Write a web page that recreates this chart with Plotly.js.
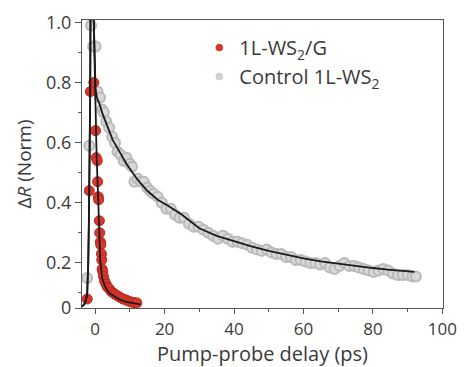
<!DOCTYPE html>
<html><head><meta charset="utf-8">
<script src="https://cdn.plot.ly/plotly-3.0.1.min.js"></script>
<style>html,body{margin:0;padding:0;background:#fff}</style>
</head><body><div id="chart" style="width:465px;height:367px"></div>
<script>
// Control 1L-WS2 (grey) data
const ctrlX = [-2.3,-1.7,-1.2,-0.6,0.1,0.7,1.4,2.0,2.5,3.2,4.0,4.9,5.7,6.4,7.3,8.2,9.0,10.0,10.6,11.3,12.2,13.2,14.0,15.0,15.8,16.8,18.0,19.2,20.5,21.8,23.0,24.3,25.6,27.0,28.4,29.8,31.2,32.6,34.0,35.4,36.8,38.2,39.6,41.0,42.4,43.8,45.2,46.6,48.0,49.4,50.8,52.2,53.6,55.0,56.4,57.8,59.2,60.6,62.0,63.4,64.8,66.2,67.6,69.0,70.4,71.8,73.2,74.6,76.0,77.4,78.8,80.2,81.6,83.0,84.4,85.8,87.2,88.6,90.0,91.4,92.4];
const ctrlY = [0.15,0.59,0.99,0.92,0.92,0.77,0.75,0.71,0.70,0.67,0.65,0.62,0.60,0.57,0.56,0.54,0.55,0.53,0.52,0.47,0.48,0.47,0.47,0.45,0.44,0.43,0.42,0.40,0.38,0.38,0.36,0.35,0.35,0.33,0.32,0.32,0.31,0.30,0.29,0.28,0.29,0.28,0.27,0.27,0.265,0.26,0.25,0.245,0.24,0.245,0.235,0.23,0.23,0.22,0.22,0.21,0.21,0.205,0.20,0.20,0.195,0.20,0.185,0.18,0.19,0.20,0.19,0.19,0.185,0.18,0.175,0.17,0.175,0.18,0.175,0.165,0.16,0.16,0.16,0.155,0.155];
// 1L-WS2/G (red) data
const grX = [-2.3,-1.7,-1.4,-0.4,0.1,0.3,0.6,0.7,0.9,1.0,1.2,1.3,1.5,1.6,1.8,1.9,2.0,2.2,2.4,2.7,3.1,3.5,4.0,4.6,5.2,5.8,6.5,7.2,8.0,8.8,9.6,10.4,11.2,12.0];
const grY = [0.08,0.44,0.77,0.80,0.64,0.55,0.54,0.47,0.42,0.41,0.34,0.30,0.27,0.26,0.23,0.21,0.18,0.17,0.155,0.14,0.13,0.12,0.115,0.105,0.10,0.095,0.09,0.085,0.08,0.077,0.073,0.07,0.068,0.067];
// Fit curves
const fitGX = [-4,-3.5,-3.0,-2.6,-2.3,-2.0,-1.8,-1.6,-1.45,-1.36,-1.3,-0.5,-0.4,-0.1,0.1,0.4,0.9,1.45,2.0,2.9,4.0,5.5,7.0,9.0,11.0,13.0];
const fitGY = [0.055,0.058,0.065,0.08,0.10,0.20,0.35,0.54,0.75,1.0,1.05,1.05,1.0,0.8,0.68,0.56,0.40,0.21,0.15,0.12,0.10,0.088,0.078,0.07,0.065,0.062];
const fitCX = [-4,-3.5,-3.0,-2.6,-2.3,-2.0,-1.8,-1.6,-1.45,-1.36,-1.3,-0.5,-0.4,-0.1,0.1,0.5,1.2,2,3,4,5,7,9,12,15,18,21,25,30,35,40,45,50,55,60,65,70,75,80,85,92];
const fitCY = [0.055,0.058,0.065,0.08,0.10,0.20,0.35,0.54,0.75,1.0,1.05,1.05,1.0,0.85,0.78,0.75,0.73,0.70,0.67,0.64,0.61,0.57,0.53,0.48,0.44,0.41,0.39,0.36,0.315,0.29,0.272,0.255,0.24,0.227,0.215,0.205,0.197,0.19,0.183,0.177,0.17];
const xTicks = [0,20,40,60,80,100];
const yTickVals = [0.05,0.2,0.4,0.6,0.8,1.0];
const yTickText = ["0","0.2","0.4","0.6","0.8","1.0"];
const seriesNames = ['1L-WS<sub>2</sub>/G', 'Control 1L-WS<sub>2</sub>'];

const font = "Open Sans, Noto Sans, sans-serif";
const grey = {size: 10, color: '#d9d9d9', line: {color: '#b9b9b9', width: 2}};
const red = {size: 10, color: '#d8382c', line: {color: '#b8261c', width: 1}};
const traces = [
  {x: ctrlX, y: ctrlY, mode: 'markers', showlegend: false, marker: grey},
  {x: grX, y: grY, mode: 'markers', showlegend: false, marker: red},
  {x: fitCX, y: fitCY, mode: 'lines', showlegend: false, line: {color: '#1a1a1a', width: 1.8}},
  {x: fitGX, y: fitGY, mode: 'lines', showlegend: false, line: {color: '#1a1a1a', width: 1.8}},
  // legend entries (no data of their own)
  {x: [null], y: [null], mode: 'markers', name: seriesNames[0],
   marker: {size: 7, color: '#d8382c', line: {color: '#c8302a', width: 0.5}}},
  {x: [null], y: [null], mode: 'markers', name: seriesNames[1],
   marker: {size: 7, color: '#cfcfcf', line: {color: '#c4c4c4', width: 0.5}}}
];
const layout = {
  width: 465, height: 367,
  margin: {l: 82, r: 22, t: 20, b: 59},
  paper_bgcolor: '#fff', plot_bgcolor: '#fff',
  font: {family: font, color: '#3a3a3a', size: 17},
  showlegend: true,
  legend: {x: 0.325, y: 0.972, xanchor: 'left', yanchor: 'top', traceorder: 'normal',
           font: {size: 20, color: '#3a3a3a'}, bgcolor: 'rgba(0,0,0,0)', tracegroupgap: 0},
  xaxis: {range: [-3.8, 100.2], tickmode: 'array', tickvals: xTicks, ticks: 'outside', ticklen: 5,
          tickcolor: '#555', linecolor: '#555', linewidth: 1.2, mirror: true, showgrid: false, zeroline: false,
          tickfont: {size: 17}, minor: {dtick: 10, tick0: 0, ticks: 'outside', ticklen: 3, tickcolor: '#555', showgrid: false},
          title: {text: 'Pump-probe delay (ps)', font: {size: 20}, standoff: 6}},
  yaxis: {range: [0.05, 1.008], tickmode: 'array', tickvals: yTickVals, ticktext: yTickText, ticks: 'outside', ticklen: 6,
          tickcolor: '#555', linecolor: '#555', linewidth: 1.2, mirror: true, showgrid: false, zeroline: false,
          tickfont: {size: 18}, minor: {tickvals: [0.1,0.3,0.5,0.7,0.9], ticks: 'outside', ticklen: 3, tickcolor: '#555', showgrid: false},
          title: {text: 'Δ<i>R</i> (Norm)', font: {size: 19}, standoff: 9}}
};
Plotly.newPlot('chart', traces, layout, {displayModeBar: false, staticPlot: true});
</script></body></html>
